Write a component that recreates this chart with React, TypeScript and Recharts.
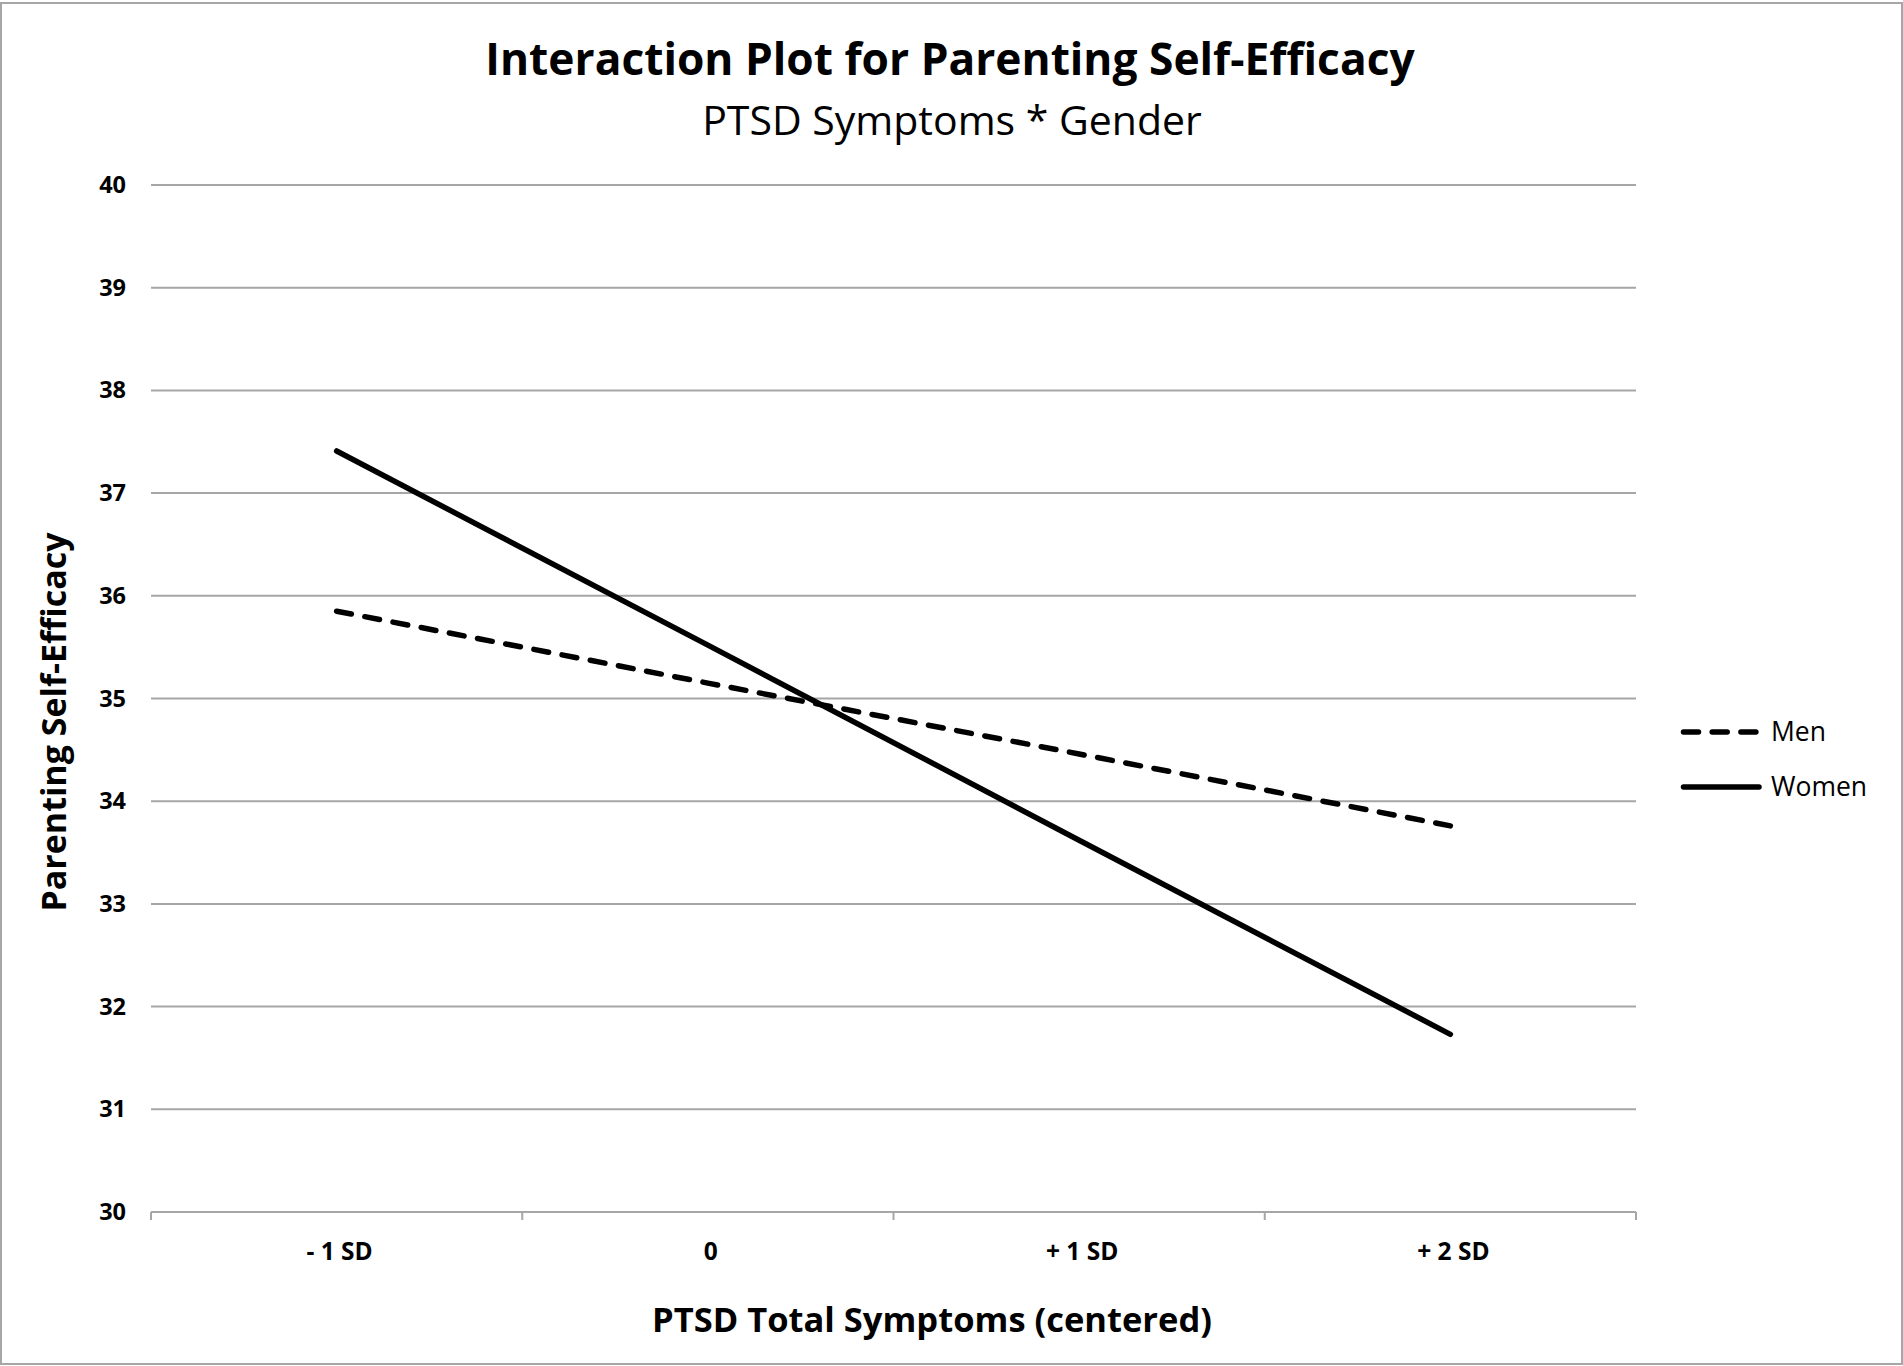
import React from 'react';
import { LineChart, Line, XAxis, YAxis, CartesianGrid, Legend } from 'recharts';

const categories = ['- 1 SD', '0', '+ 1 SD', '+ 2 SD'];
const menValues = [35.85, 35.15, 34.46, 33.76];
const womenValues = [37.41, 35.52, 33.62, 31.73];
const yTicks = [30, 31, 32, 33, 34, 35, 36, 37, 38, 39, 40];

const titleText = 'Interaction Plot for Parenting Self-Efficacy';
const subtitleText = 'PTSD Symptoms * Gender';
const xTitle = 'PTSD Total Symptoms (centered)';
const yTitle = 'Parenting Self-Efficacy';

const data = categories.map((c, i) => ({ cat: c, Men: menValues[i], Women: womenValues[i] }));

const FONT = '"Open Sans", "Noto Sans", sans-serif';
const GRID = '#a6a6a6';
const DASH = '15 13.7';

const XTick = (props: any) => {
  const { x, y, payload, index, visibleTicksCount, width } = props;
  const band = width && visibleTicksCount ? width / visibleTicksCount : (payload.offset || 0) * 2;
  const left = x - band / 2;
  const right = x + band / 2;
  return (
    <g>
      <line x1={left} x2={left} y1={y} y2={y + 8} stroke={GRID} strokeWidth={2} />
      {index === visibleTicksCount - 1 && (
        <line x1={right} x2={right} y1={y} y2={y + 8} stroke={GRID} strokeWidth={2} />
      )}
      <text x={x + 3} y={y + 48} textAnchor="middle" fontFamily={FONT} fontWeight={700} fontSize={24.5} fill="#000">
        {payload.value}
      </text>
    </g>
  );
};

const YTick = (props: any) => {
  const { x, y, payload } = props;
  return (
    <text x={x} y={y} dy={8} textAnchor="end" fontFamily={FONT} fontWeight={700} fontSize={23.5} fill="#000">
      {payload.value}
    </text>
  );
};

const LegendContent = (props: any) => {
  const items = props.payload || [];
  return (
    <svg width={220} height={120} style={{ overflow: 'visible', display: 'block' }}>
      {items.map((it: any, i: number) => {
        const cy = 32 + i * 55;
        const dash = it.payload && it.payload.strokeDasharray;
        return (
          <g key={i}>
            <line x1={2.5} x2={78} y1={cy} y2={cy} stroke="#000" strokeWidth={5.5} strokeLinecap="round" strokeDasharray={dash} />
            <text x={90} y={cy + 9} fontFamily={FONT} fontSize={26.5} fill="#000">{it.value}</text>
          </g>
        );
      })}
    </svg>
  );
};

export default function App() {
  return (
    <div style={{ position: 'absolute', left: 0, top: 0, width: 1903, height: 1366, background: '#fff' }}>
      <div
        style={{
          position: 'absolute',
          left: 0,
          top: 2,
          width: 1903,
          height: 1363,
          border: `2.5px solid ${GRID}`,
          boxSizing: 'border-box',
        }}
      />
      <div style={{ position: 'absolute', left: 0, top: 0 }}>
        <LineChart width={1903} height={1366} data={data} margin={{ top: 185, right: 267, bottom: 0, left: 0 }}>
          <CartesianGrid vertical={false} stroke={GRID} strokeWidth={2} />
          <XAxis
            dataKey="cat"
            type="category"
            scale="band"
            height={154}
            tickSize={0}
            tickMargin={0}
            tickLine={false}
            axisLine={{ stroke: GRID, strokeWidth: 2 }}
            tick={<XTick />}
            interval={0}
          />
          <YAxis
            type="number"
            domain={[30, 40]}
            ticks={yTicks}
            width={151}
            tickSize={0}
            tickMargin={25}
            tickLine={false}
            axisLine={false}
            tick={<YTick />}
            interval={0}
          />
          <Legend
            layout="vertical"
            align="center"
            verticalAlign="middle"
            content={<LegendContent />}
            wrapperStyle={{ left: 1681, top: 700, width: 220, height: 120 }}
          />
          <Line
            dataKey="Men"
            name="Men"
            stroke="#000"
            strokeWidth={5.5}
            strokeDasharray={DASH}
            strokeLinecap="round"
            dot={false}
            activeDot={false}
            isAnimationActive={false}
          />
          <Line
            dataKey="Women"
            name="Women"
            stroke="#000"
            strokeWidth={5.5}
            strokeLinecap="round"
            dot={false}
            activeDot={false}
            isAnimationActive={false}
          />
        </LineChart>
      </div>
      <svg width={1903} height={1366} style={{ position: 'absolute', left: 0, top: 0, pointerEvents: 'none' }}>
        <text x={950} y={75} textAnchor="middle" fontFamily={FONT} fontWeight={700} fontSize={44.3} fill="#000">
          {titleText}
        </text>
        <text x={952} y={135} textAnchor="middle" fontFamily={FONT} fontSize={41} fill="#000">
          {subtitleText}
        </text>
        <text x={932} y={1332} textAnchor="middle" fontFamily={FONT} fontWeight={700} fontSize={34.5} fill="#000">
          {xTitle}
        </text>
        <text
          transform="translate(66,722) rotate(-90)"
          textAnchor="middle"
          fontFamily={FONT}
          fontWeight={700}
          fontSize={34}
          fill="#000"
        >
          {yTitle}
        </text>
      </svg>
    </div>
  );
}
